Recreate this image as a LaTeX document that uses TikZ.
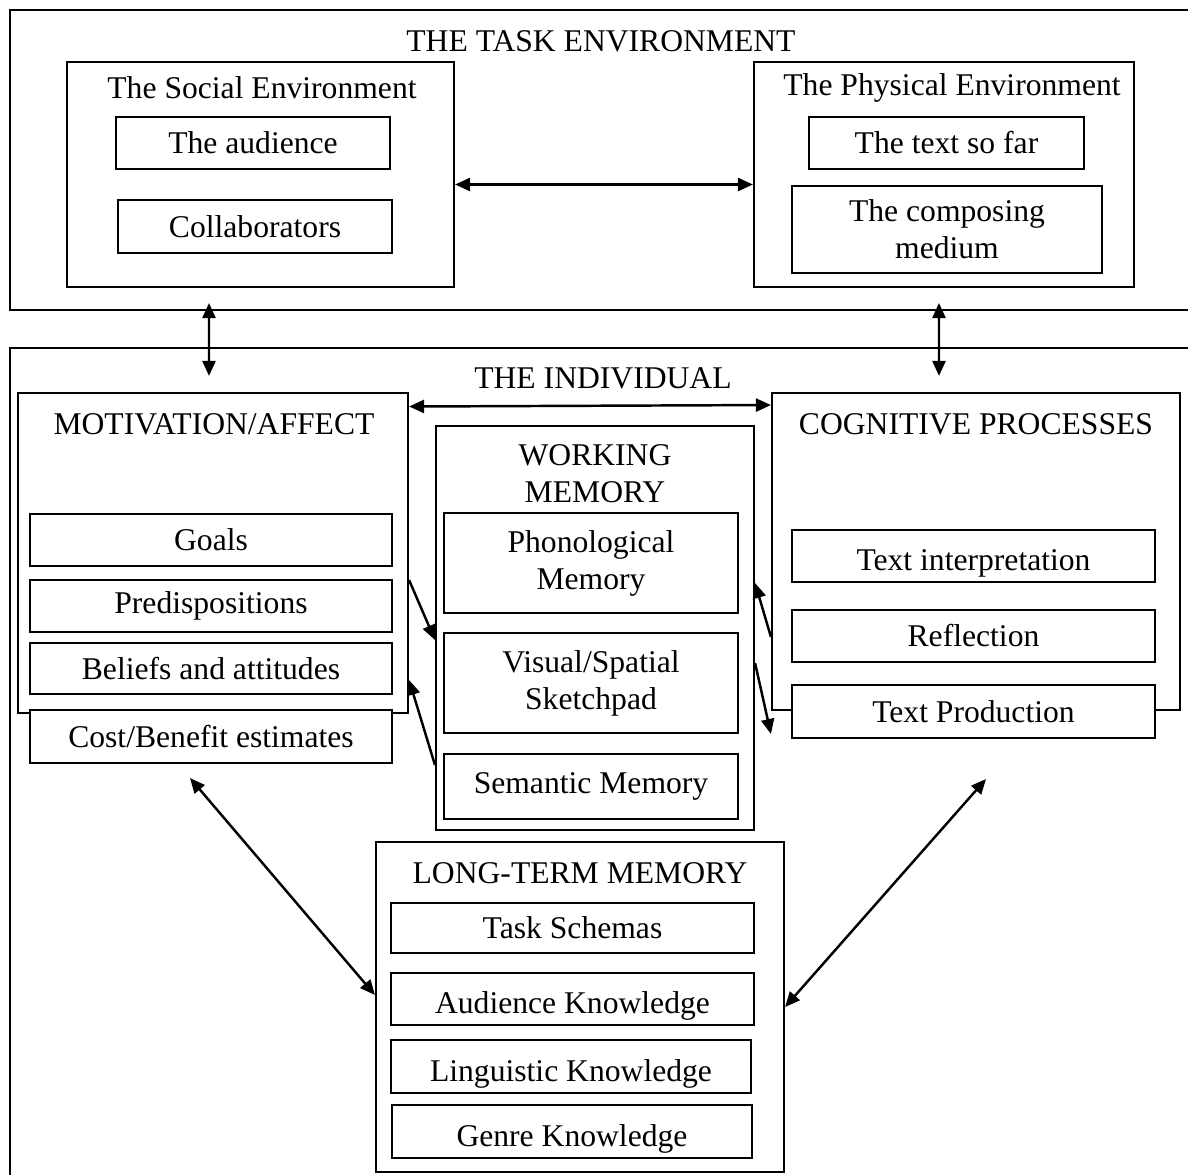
\documentclass[tikz,border=0pt]{standalone}
\usepackage{fontspec}
\setmainfont{Liberation Serif}
\usetikzlibrary{arrows.meta,calc}
\tikzset{
  box/.style={draw, line width=1.2pt, fill=white, inner sep=0pt, anchor=center, align=center, font=\fontsize{18}{21}\selectfont},
  frame/.style={draw, line width=1.4pt},
  ttl/.style={inner sep=0pt, align=center, font=\fontsize{18}{21}\selectfont},
  darr/.style={line width=1.4pt, {Triangle[length=0.3cm,width=0.26cm]}-{Triangle[length=0.3cm,width=0.26cm]}},
  sarr/.style={line width=1.4pt, -{Triangle[length=0.3cm,width=0.26cm]}}
}
\newcommand{\bx}[7][]{\node[box,#1, minimum width={(#5-#3)*0.02cm}, minimum height={(#6-#4)*0.02cm}] (#2) at ({(#3+#5)/2},{(#4+#6)/2}) {#7};}
\newcommand{\lowr}[1]{\raisebox{-0.14cm}[\height][\depth]{#1}}
\begin{document}
\begin{tikzpicture}[x=0.02cm,y=-0.02cm]
\useasboundingbox (0,0) rectangle (1188,1175);
% outer open frames
\draw[frame] (1188,10) -- (10,10) -- (10,310) -- (1188,310);
\draw[frame] (1188,348) -- (10,348) -- (10,1175);
\node[ttl] (tasktitle) at (601,41) {THE TASK ENVIRONMENT};
\node[ttl] (indtitle) at (603,378) {THE INDIVIDUAL};
% task environment
\bx{soc}{67}{62}{454}{287}{}
\node[ttl] (soct) at (262,88) {The Social Environment};
\bx{aud}{116}{117}{390}{169}{The audience}
\bx{col}{118}{200}{392}{253}{Collaborators}
\bx{phy}{754}{62}{1134}{287}{}
\node[ttl] (phyt) at (952,88) {The Physical Environment};
\bx{tsf}{809}{117}{1084}{169}{The text so far}
\bx{med}{792}{186}{1102}{273}{The composing\\medium}
% motivation
\bx{mot}{18}{393}{408}{713}{}
\node[ttl] (mott) at (214,424) {MOTIVATION/AFFECT};
\bx{goals}{30}{514}{392}{566}{Goals}
\bx{pred}{30}{580}{392}{632}{Predispositions}
\bx{bel}{30}{643}{392}{694}{Beliefs and attitudes}
\bx{cost}{30}{710}{392}{763}{Cost/Benefit estimates}
% working memory
\bx{wm}{436}{426}{754}{830}{}
\node[ttl] (wmt) at (595,474) {WORKING\\MEMORY};
\bx{phon}{444}{513}{738}{613}{Phonological\\Memory}
\bx{vis}{444}{633}{738}{733}{Visual/Spatial\\Sketchpad}
\bx{sem}{444}{754}{738}{819}{Semantic Memory}
% cognitive processes
\bx{cog}{772}{393}{1180}{710}{}
\node[ttl] (cogt) at (976,424) {COGNITIVE PROCESSES};
\bx{ti}{792}{530}{1155}{582}{\lowr{Text interpretation}}
\bx{refl}{792}{610}{1155}{662}{Reflection}
\bx{tp}{792}{685}{1155}{738}{Text Production}
% long-term memory
\bx{ltm}{376}{842}{784}{1172}{}
\node[ttl] (ltmt) at (580,873) {LONG-TERM MEMORY};
\bx{ts}{391}{903}{754}{953}{Task Schemas}
\bx{ak}{391}{973}{754}{1025}{\lowr{Audience Knowledge}}
\bx{lk}{391}{1040}{751}{1093}{\lowr{Linguistic Knowledge}}
\bx{gk}{392}{1105}{752}{1158}{\lowr{Genre Knowledge}}
% connectors
\draw[darr] ([yshift=-0.2cm]soc.east) -- ([yshift=-0.2cm]phy.west);
\draw[darr] ([xshift=-1.03cm,yshift=-0.3cm]soc.south) -- ([xshift=-0.08cm,yshift=0.32cm]mot.north);
\draw[darr] ([xshift=-0.1cm,yshift=-0.3cm]phy.south) -- ([xshift=-0.74cm,yshift=0.32cm]cog.north);
\draw[darr] ([yshift=2.93cm]mot.east) -- ([yshift=2.93cm]cog.west);
\draw[sarr] ([yshift=-0.54cm]mot.east) -- ([yshift=-0.24cm]wm.west);
\draw[sarr] ([yshift=-2.74cm]wm.west) -- ([yshift=-2.54cm]mot.east);
\draw[sarr] ([yshift=-1.71cm]cog.west) -- ([yshift=0.9cm]wm.east);
\draw[sarr] ([yshift=-0.7cm]wm.east) -- ([yshift=-3.65cm]cog.west);
\draw[darr] ([yshift=0.24cm]ltm.west) -- ([xshift=-0.42cm,yshift=-0.28cm]cost.south);
\draw[darr] (ltm.east) -- ([xshift=0.2cm,yshift=-1.36cm]cog.south);
\end{tikzpicture}
\end{document}
